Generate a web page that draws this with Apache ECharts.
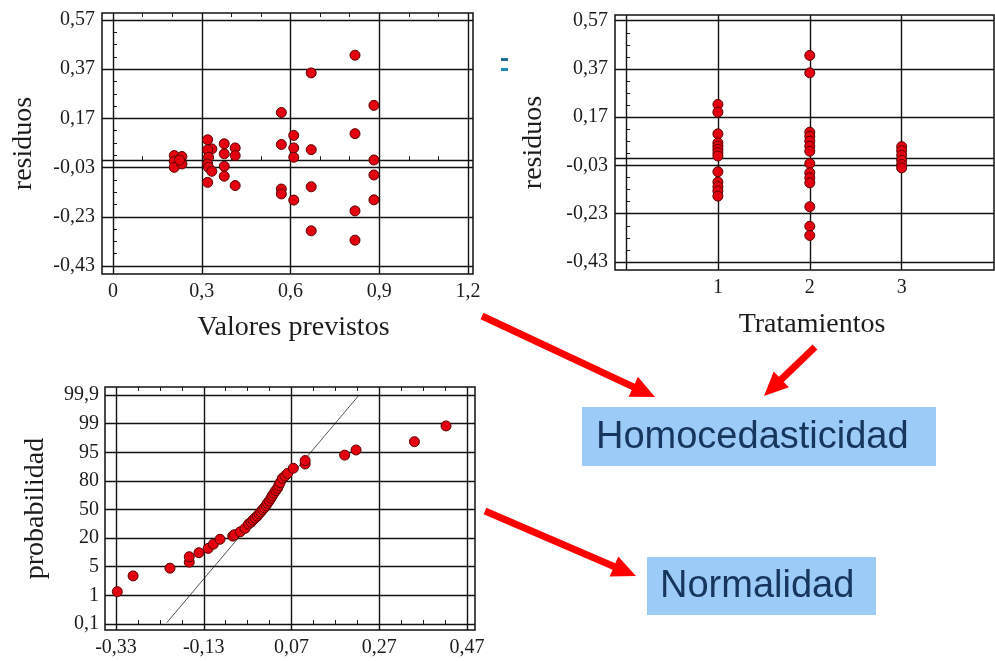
<!DOCTYPE html>
<html>
<head>
<meta charset="utf-8">
<script src="https://cdn.jsdelivr.net/npm/echarts@6/dist/echarts.min.js"></script>
<style>
  html, body { margin: 0; padding: 0; background: #fff; }
  #chart { width: 995px; height: 661px; }
</style>
</head>
<body>
<div id="chart"></div>
<script>
// ---- Residuos frente a valores previstos ----
const predX = [0.207, 0.207, 0.207, 0.233, 0.233, 0.225,
  0.320, 0.334, 0.320, 0.323, 0.320, 0.323, 0.334, 0.320,
  0.376, 0.376, 0.376, 0.376,
  0.413, 0.413, 0.413,
  0.569, 0.569, 0.569, 0.569,
  0.611, 0.611, 0.611, 0.611,
  0.670, 0.670, 0.670, 0.670,
  0.818, 0.818, 0.818, 0.818,
  0.882, 0.882, 0.882, 0.882];
const predResid = [0.019, -0.004, -0.029, 0.015, -0.015, 0.001,
  0.083, 0.046, 0.042, 0.012, -0.015, -0.029, -0.045, -0.090,
  0.067, 0.026, -0.025, -0.065,
  0.050, 0.019, -0.103,
  0.194, 0.064, -0.117, -0.137,
  0.101, 0.050, 0.012, -0.162,
  0.355, 0.043, -0.108, -0.287,
  0.427, 0.108, -0.206, -0.325,
  0.223, 0.001, -0.060, -0.161];

// ---- Residuos por tratamiento ----
const tratGroup = [1, 1, 1, 1, 1, 1, 1, 1, 1, 1, 1, 1, 1,
  2, 2, 2, 2, 2, 2, 2, 2, 2, 2, 2, 2, 2, 2,
  3, 3, 3, 3, 3, 3];
const tratResid = [0.223, 0.191, 0.101, 0.064, 0.050, 0.037, 0.023, 0.009, -0.056, -0.099, -0.118, -0.136, -0.157,
  0.426, 0.354, 0.108, 0.091, 0.071, 0.050, 0.029, -0.022, -0.060, -0.081, -0.102, -0.201, -0.282, -0.320,
  0.048, 0.031, 0.012, -0.008, -0.026, -0.040];

// ---- Gráfico de probabilidad normal ----
// probPos: position on the probability axis, one step per labelled level
const normResid = [-0.327, -0.291, -0.207, -0.163, -0.163, -0.141, -0.120, -0.108, -0.093,
  -0.064, -0.060, -0.047, -0.036, -0.028, -0.022, -0.018, -0.013, -0.008, -0.004, 0.000,
  0.004, 0.008, 0.012, 0.015, 0.019, 0.023, 0.026, 0.030, 0.034, 0.038, 0.041, 0.044,
  0.049, 0.055, 0.061, 0.074, 0.101, 0.101, 0.191, 0.217, 0.350, 0.422];
const probPos = [1.13, 1.68, 1.95, 2.16, 2.35, 2.49, 2.64, 2.79, 2.96,
  3.07, 3.12, 3.22, 3.34, 3.49, 3.56, 3.63, 3.70, 3.77, 3.85, 3.92,
  3.99, 4.06, 4.14, 4.22, 4.30, 4.39, 4.48, 4.57, 4.66, 4.74, 4.84, 4.94,
  5.09, 5.17, 5.26, 5.44, 5.59, 5.71, 5.90, 6.08, 6.37, 6.92];
const fitLine = [[-0.214, 0.05], [0.224, 8.0]];

// ---- Tick levels ----
const residTicks = [-0.43, -0.23, -0.03, 0.17, 0.37, 0.57];
const predTicks = [0, 0.3, 0.6, 0.9, 1.2];
const tratTicks = [1, 2, 3];
const normXTicks = [-0.33, -0.13, 0.07, 0.27, 0.47];
const probLabels = ['0,1', '1', '5', '20', '50', '80', '95', '99', '99,9'];

const SERIF = '"Liberation Serif", "DejaVu Serif", serif';
const SANS = '"Liberation Sans", Arial, sans-serif';
const INK = '#1c1c1c';

function steps(from, to, step) {
  const out = [];
  for (let v = from; v <= to + 1e-9; v += step) out.push(Math.round(v * 1000) / 1000);
  return out;
}
const comma = (s) => s.replace('.', ',');

const labelStyle = { fontFamily: SERIF, fontSize: 20, color: INK };
const nameStyle = { fontFamily: SERIF, fontSize: 28, color: INK };

function axisBase(gridIndex, min, max) {
  return {
    type: 'value', gridIndex, min, max,
    axisLine: { show: false },
    splitLine: { show: false },
    axisTick: { show: false },
    axisLabel: { show: false }
  };
}
function tickSet(values) {
  return { show: true, inside: true, length: 4, customValues: values,
           lineStyle: { color: INK, width: 1 } };
}

// Grid lines, drawn beneath the points
function gridLines(xs, ys) {
  return {
    silent: true, symbol: ['none', 'none'], label: { show: false },
    lineStyle: { color: '#111', width: 1.4, type: 'solid' },
    emphasis: { disabled: true },
    data: xs.map(v => ({ xAxis: v })).concat(ys.map(v => ({ yAxis: v })))
  };
}

const pointStyle = { color: '#e3000e', borderColor: '#5c0000', borderWidth: 1, opacity: 1 };

const xAxes = [
  Object.assign(axisBase(0, -0.0372, 1.2169), {
    position: 'bottom',
    axisTick: tickSet(steps(0, 1.2, 0.1)),
    axisLabel: { show: true, margin: 8, customValues: predTicks,
      formatter: v => comma(String(+v.toFixed(1))), ...labelStyle },
    name: 'Valores previstos', nameLocation: 'middle', nameGap: 40,
    nameTextStyle: Object.assign({ padding: [0, 0, 0, 12] }, nameStyle)
  }),
  Object.assign(axisBase(0, -0.0372, 1.2169), {
    position: 'top', axisTick: tickSet(steps(0, 1.2, 0.1))
  }),
  Object.assign(axisBase(1, -0.12, 4.005), {
    position: 'bottom',
    axisLabel: { show: true, margin: 8, customValues: tratTicks,
      formatter: v => String(v), ...labelStyle },
    name: 'Tratamientos', nameLocation: 'middle', nameGap: 41,
    nameTextStyle: Object.assign({ padding: [0, 0, 0, 15] }, nameStyle)
  }),
  Object.assign(axisBase(2, -0.355, 0.488), {
    position: 'bottom',
    axisTick: tickSet(steps(-0.33, 0.47, 0.05)),
    axisLabel: { show: true, margin: 8, customValues: normXTicks,
      formatter: v => comma(v.toFixed(2)), ...labelStyle }
  }),
  Object.assign(axisBase(2, -0.355, 0.488), {
    position: 'top', axisTick: tickSet(steps(-0.33, 0.47, 0.05))
  })
];

const yAxes = [
  Object.assign(axisBase(0, -0.4625, 0.5985), {
    position: 'left',
    axisTick: tickSet(steps(-0.43, 0.57, 0.05)),
    axisLabel: { show: true, margin: 7, customValues: residTicks,
      formatter: v => comma(v.toFixed(2)), ...labelStyle },
    name: 'residuos', nameLocation: 'middle', nameGap: 64, nameTextStyle: nameStyle
  }),
  Object.assign(axisBase(1, -0.4632, 0.5936), {
    position: 'left',
    axisTick: tickSet(steps(-0.43, 0.57, 0.05)),
    axisLabel: { show: true, margin: 7, customValues: residTicks,
      formatter: v => comma(v.toFixed(2)), ...labelStyle },
    name: 'residuos', nameLocation: 'middle', nameGap: 67, nameTextStyle: nameStyle
  }),
  Object.assign(axisBase(2, -0.21, 8.28), {
    position: 'left',
    axisLabel: { show: true, margin: 6, customValues: [0, 1, 2, 3, 4, 5, 6, 7, 8],
      formatter: v => probLabels[Math.round(v)], ...labelStyle },
    name: 'probabilidad', nameLocation: 'middle', nameGap: 55, nameTextStyle: nameStyle
  })
];

// Red annotation arrows
function arrow(x1, y1, x2, y2) {
  const shaft = 7, headLen = 24, headW = 22;
  const dx = x2 - x1, dy = y2 - y1, L = Math.hypot(dx, dy);
  const ux = dx / L, uy = dy / L, nx = -uy, ny = ux;
  const bx = x2 - ux * headLen, by = y2 - uy * headLen;
  return {
    type: 'polygon', z: 100,
    shape: { points: [
      [x1 + nx * shaft / 2, y1 + ny * shaft / 2],
      [bx + nx * shaft / 2, by + ny * shaft / 2],
      [bx + nx * headW / 2, by + ny * headW / 2],
      [x2, y2],
      [bx - nx * headW / 2, by - ny * headW / 2],
      [bx - nx * shaft / 2, by - ny * shaft / 2],
      [x1 - nx * shaft / 2, y1 - ny * shaft / 2]
    ] },
    style: { fill: '#ff0000' }
  };
}

const option = {
  backgroundColor: '#ffffff',
  animation: false,
  grid: [
    { left: 102, top: 13, width: 371, height: 261, show: true, borderColor: '#111', borderWidth: 1.5, backgroundColor: 'transparent' },
    { left: 615, top: 15, width: 379, height: 255, show: true, borderColor: '#111', borderWidth: 1.5, backgroundColor: 'transparent' },
    { left: 105, top: 387, width: 370, height: 243, show: true, borderColor: '#111', borderWidth: 1.5, backgroundColor: 'transparent' }
  ],
  xAxis: xAxes,
  yAxis: yAxes,
  series: [
    { type: 'scatter', xAxisIndex: 0, yAxisIndex: 0, data: [], z: 1,
      markLine: gridLines(predTicks, residTicks.concat([0])) },
    { type: 'scatter', xAxisIndex: 0, yAxisIndex: 0, z: 5, symbolSize: 10,
      itemStyle: pointStyle,
      data: predX.map((x, i) => [x, predResid[i]]) },

    { type: 'scatter', xAxisIndex: 2, yAxisIndex: 1, data: [], z: 1,
      markLine: gridLines([0].concat(tratTicks), residTicks.concat([0])) },
    { type: 'scatter', xAxisIndex: 2, yAxisIndex: 1, z: 5, symbolSize: 10,
      itemStyle: pointStyle,
      data: tratGroup.map((g, i) => [g, tratResid[i]]) },

    { type: 'scatter', xAxisIndex: 3, yAxisIndex: 2, data: [], z: 1,
      markLine: gridLines(normXTicks, [0, 1, 2, 3, 4, 5, 6, 7, 8]) },
    { type: 'line', xAxisIndex: 3, yAxisIndex: 2, z: 3, data: fitLine,
      showSymbol: false, symbol: 'none', silent: true,
      lineStyle: { color: '#555', width: 1 } },
    { type: 'scatter', xAxisIndex: 3, yAxisIndex: 2, z: 5, symbolSize: 10,
      itemStyle: pointStyle,
      data: normResid.map((x, i) => [x, probPos[i]]) }
  ],
  graphic: [
    { type: 'rect', shape: { x: 501, y: 58, width: 7, height: 3 }, style: { fill: '#1f6d97' } },
    { type: 'rect', shape: { x: 501, y: 68, width: 7, height: 3 }, style: { fill: '#1f8fb8' } },

    { type: 'rect', shape: { x: 582, y: 407, width: 354, height: 59 }, style: { fill: '#9dcbf7' } },
    { type: 'text', x: 596, y: 438, style: { text: 'Homocedasticidad', fill: '#17365d',
      font: '38px ' + SANS, textVerticalAlign: 'middle', textAlign: 'left' } },
    { type: 'rect', shape: { x: 647, y: 557, width: 229, height: 58 }, style: { fill: '#9dcbf7' } },
    { type: 'text', x: 660, y: 587, style: { text: 'Normalidad', fill: '#17365d',
      font: '38px ' + SANS, textVerticalAlign: 'middle', textAlign: 'left' } },

    arrow(482, 316, 655, 397),
    arrow(815, 347, 764, 396),
    arrow(485, 511, 636, 576)
  ]
};

const chart = echarts.init(document.getElementById('chart'), null, { renderer: 'canvas' });
chart.setOption(option);
</script>
</body>
</html>
